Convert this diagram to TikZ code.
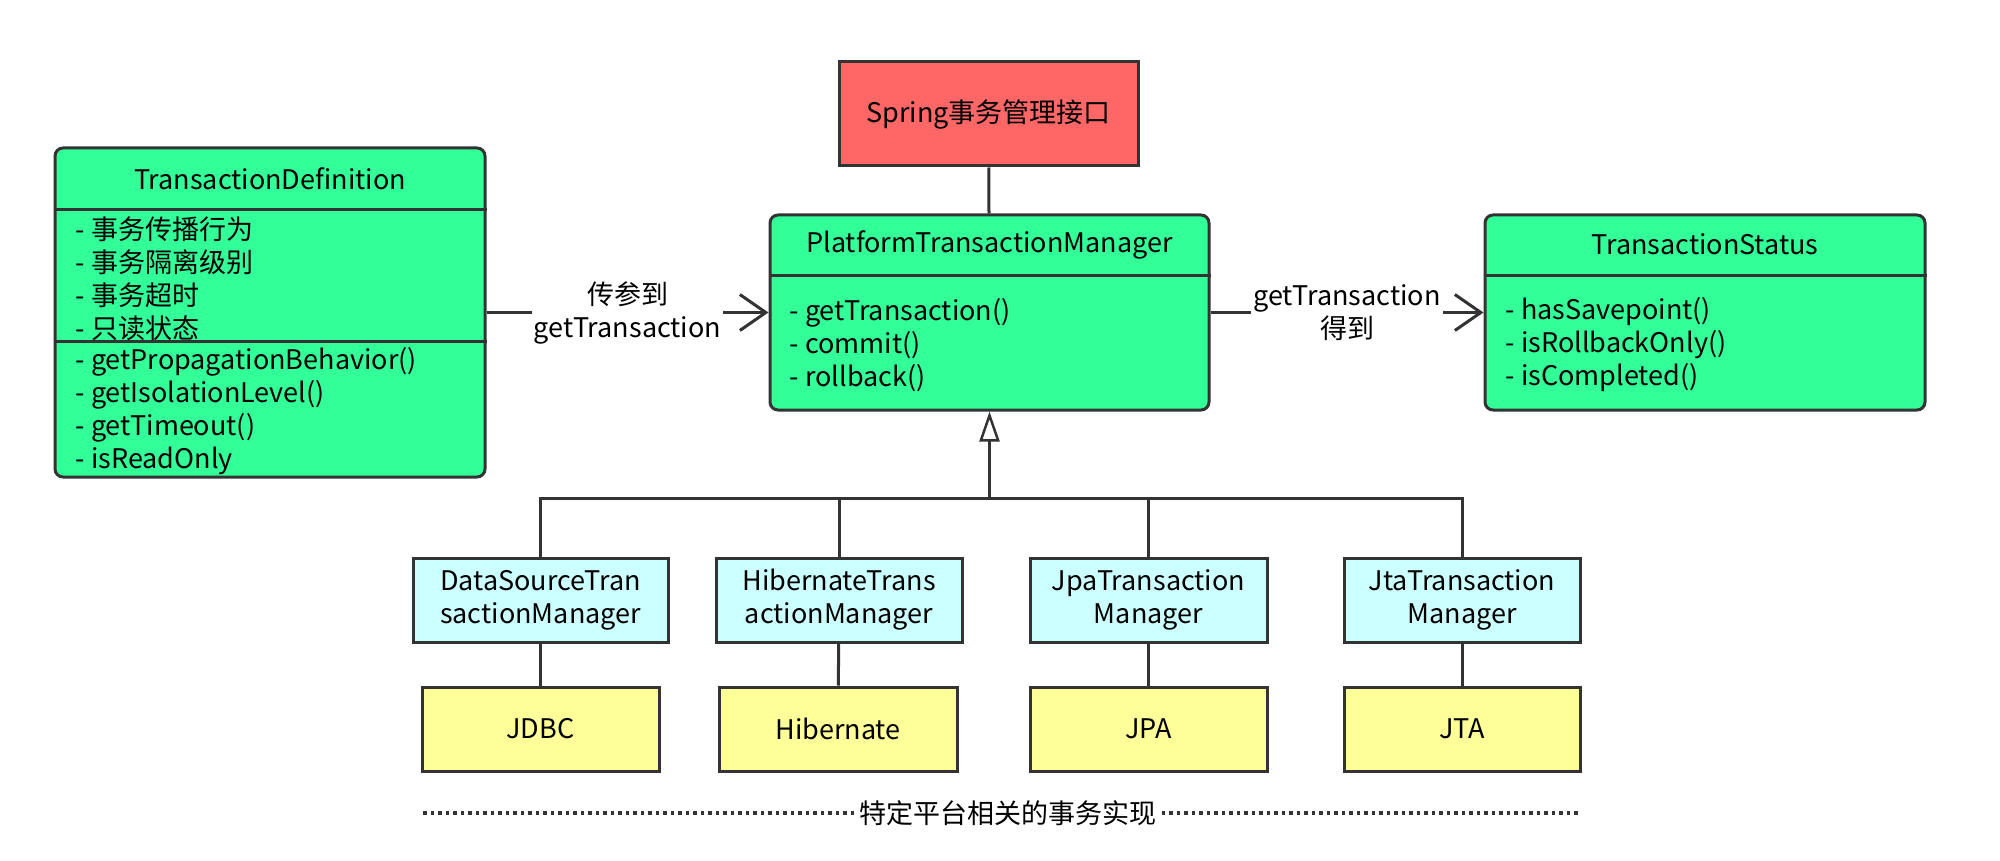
\documentclass[tikz,border=0pt]{standalone}
\usepackage{fontspec}
\setmainfont{Noto Sans CJK SC}
\usepackage{tikz}
\usetikzlibrary{arrows.meta,positioning,calc}
\definecolor{linegray}{HTML}{333333}
\definecolor{classgreen}{RGB}{51,255,153}
\definecolor{rootred}{HTML}{FF6666}
\definecolor{implblue}{HTML}{CCFFFF}
\definecolor{techyellow}{HTML}{FFFF99}
\tikzset{
    %Define standard arrow tip
    >={Straight Barb[length=26pt,width=36pt]},
    %Define style for boxes
    classbox/.style={
           rectangle,
           rounded corners=8pt,
           draw=linegray, line width=3pt,
           fill=classgreen},
    rootbox/.style={
           rectangle,
           draw=linegray, line width=3pt,
           fill=rootred},
    implbox/.style={
           rectangle,
           draw=linegray, line width=3pt,
           fill=implblue,
           align=center},
    techbox/.style={
           rectangle,
           draw=linegray, line width=3pt,
           fill=techyellow,
           minimum height=84pt},
    members/.style={
           align=left,
           anchor=west,
           inner sep=0pt},
    lbl/.style={
           fill=white,
           align=center,
           inner sep=2pt},
    % Define arrow style
    pil/.style={
           draw=linegray,
           line width=3pt},
    arr/.style={
           ->,
           draw=linegray,
           line width=3pt},
    inh/.style={
           -{Triangle[open,length=30pt,width=20pt,line width=2.5pt]},
           draw=linegray,
           line width=3pt},
    dottedline/.style={
           draw=linegray,
           line width=3.5pt,
           dash pattern=on 3.5pt off 4pt}
}

\begin{document}
\begin{tikzpicture}[x=1pt, y=-1pt, every node/.style={font=\fontsize{27}{33}\selectfont}]
    \useasboundingbox (0,0) rectangle (2000,861);

    % INTERFACES
    \node[rootbox, minimum width=299pt, minimum height=104pt] at (988.5,114) (spring) {Spring事务管理接口};
    \node[classbox, minimum width=439pt, minimum height=195pt] at (989.5,312.5) (ptm) {};
    \node[classbox, minimum width=430pt, minimum height=329pt] at (270,312.5) (tdef) {};
    \node[classbox, minimum width=440pt, minimum height=195pt] at (1705,312.5) (tstat) {};

    % PlatformTransactionManager
    \draw[pil] ([yshift=-62pt]ptm.north west) -- ([yshift=-62pt]ptm.north east);
    \node at ([yshift=-31pt]ptm.north) (ptmname) {PlatformTransactionManager};
    \node[members] at ([xshift=21pt, yshift=-131.5pt]ptm.north west) (ptmops) {- getTransaction()\\- commit()\\- rollback()};

    % TransactionDefinition
    \draw[pil] ([yshift=-63pt]tdef.north west) -- ([yshift=-63pt]tdef.north east);
    \draw[pil] ([yshift=-195pt]tdef.north west) -- ([yshift=-195pt]tdef.north east);
    \node at ([yshift=-32pt]tdef.north) (tdefname) {TransactionDefinition};
    \node[members] at ([xshift=22pt, yshift=-132pt]tdef.north west) (tdefattr) {- 事务传播行为\\- 事务隔离级别\\- 事务超时\\- 只读状态};
    \node[members] at ([xshift=22pt, yshift=-265pt]tdef.north west) (tdefops) {- getPropagationBehavior()\\- getIsolationLevel()\\- getTimeout()\\- isReadOnly};

    % TransactionStatus
    \draw[pil] ([yshift=-62pt]tstat.north west) -- ([yshift=-62pt]tstat.north east);
    \node at ([yshift=-31pt]tstat.north) (tstatname) {TransactionStatus};
    \node[members] at ([xshift=22pt, yshift=-131.5pt]tstat.north west) (tstatops) {- hasSavepoint()\\- isRollbackOnly()\\- isCompleted()};

    \draw[pil] (spring) -- (ptm);
    \draw[arr] (tdef.east |- ptm.west) -- node[lbl]{传参到\\getTransaction} (ptm.west);
    \draw[arr] (ptm.east) -- node[lbl]{getTransaction\\得到} (tstat.west);

    % IMPLEMENTATIONS
    \node[implbox, minimum width=255pt, minimum height=84pt] at (540.5,600) (dstm) {DataSourceTran\\sactionManager};
    \node[implbox, minimum width=246pt, minimum height=84pt] at (839,600) (hbtm) {HibernateTrans\\actionManager};
    \node[implbox, minimum width=237pt, minimum height=84pt] at (1148.5,600) (jpatm) {JpaTransaction\\Manager};
    \node[implbox, minimum width=236pt, minimum height=84pt] at (1462,600) (jtatm) {JtaTransaction\\Manager};

    \node[techbox, minimum width=237pt] at (540.5,729) (jdbc) {JDBC};
    \node[techbox, minimum width=238pt] at (838,729) (hib) {Hibernate};
    \node[techbox, minimum width=237pt] at (1148.5,729) (jpa) {JPA};
    \node[techbox, minimum width=236pt] at (1462,729) (jta) {JTA};

    \coordinate (bus) at ([yshift=-87pt]ptm.south);
    \draw[inh] (bus) -- (ptm.south);
    \draw[pil] (dstm.north) |- (bus) -| (jtatm.north);
    \draw[pil] (hbtm.north) -- (hbtm.north |- bus);
    \draw[pil] (jpatm.north) -- (jpatm.north |- bus);
    \foreach \a/\b in {dstm/jdbc, hbtm/hib, jpatm/jpa, jtatm/jta}
        \draw[pil] (\a) -- (\b);

    % PLATFORM NOTE
    \node[inner sep=5pt] at (1008,813) (platform) {特定平台相关的事务实现};
    \draw[dottedline] (platform.west) -- (platform.west -| jdbc.west);
    \draw[dottedline] (platform.east) -- (platform.east -| jta.east);
\end{tikzpicture}
\end{document}
